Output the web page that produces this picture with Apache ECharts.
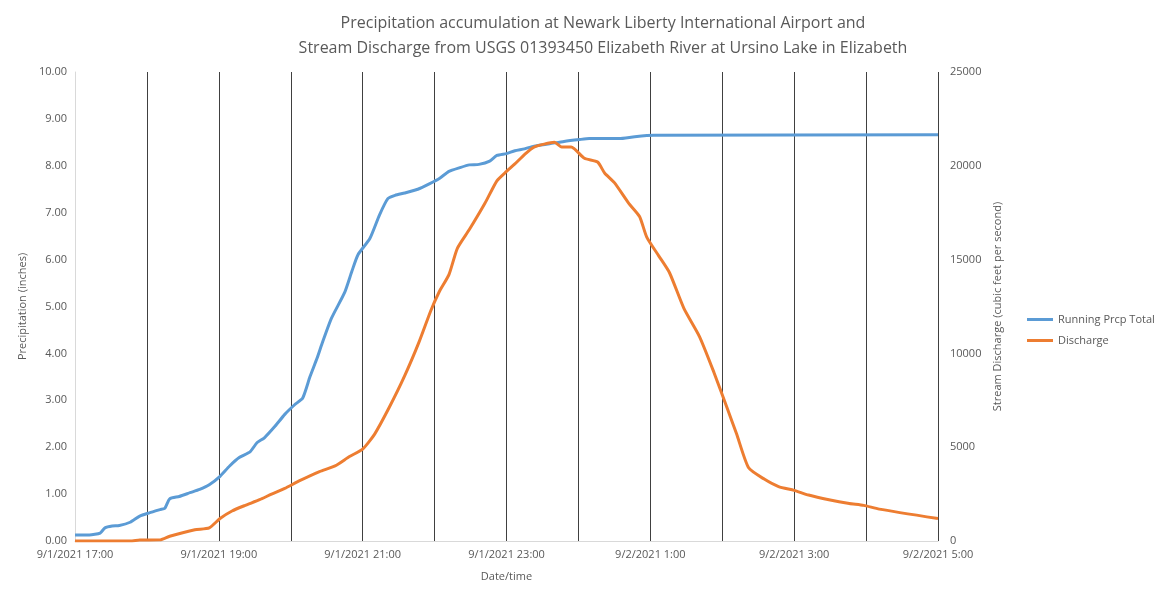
<!DOCTYPE html>
<html>
<head>
<meta charset="utf-8">
<script src="https://cdn.jsdelivr.net/npm/echarts@6/dist/echarts.min.js"></script>
<style>html,body{margin:0;padding:0;background:#fff}#chart{width:1157px;height:601px}</style>
</head>
<body>
<div id="chart"></div>
<script>
// minutes after 9/1/2021 17:00
const prcpTimes = [0,12,21,25,31,37,46,54,62,71,75,79,87,96,104,112,121,129,137,146,152,158,167,175,183,190,196,202,206,214,225,231,236,246,254,261,267,275,286,296,304,312,321,329,337,346,352,360,367,375,383,396,408,421,429,454,467,483,720];
const prcpValues = [0.13,0.13,0.17,0.28,0.32,0.33,0.40,0.53,0.60,0.67,0.70,0.90,0.95,1.03,1.10,1.20,1.38,1.60,1.78,1.90,2.10,2.20,2.45,2.70,2.90,3.05,3.50,3.90,4.20,4.75,5.30,5.75,6.10,6.45,6.95,7.30,7.37,7.42,7.50,7.62,7.73,7.88,7.96,8.02,8.03,8.10,8.22,8.26,8.32,8.36,8.42,8.47,8.52,8.56,8.58,8.58,8.62,8.65,8.66];
const qTimes = [0,46,54,71,79,100,112,121,131,142,154,164,175,187,204,217,229,240,250,262,275,287,297,304,312,319,329,342,352,360,367,375,383,400,406,414,425,436,442,450,462,471,477,487,496,508,521,533,544,552,562,575,587,600,612,629,646,658,671,720];
const qValues = [0,0,50,60,250,600,700,1200,1600,1900,2200,2500,2800,3200,3700,4000,4500,4900,5700,7100,8800,10600,12300,13300,14200,15600,16600,18000,19200,19700,20100,20600,21000,21250,21000,21000,20400,20200,19600,19100,18000,17300,16200,15200,14300,12400,10900,9000,7100,5700,3900,3300,2900,2700,2450,2200,2000,1900,1700,1200];

function timeLabel(m) {
  const h = 17 + m / 60;
  if (h < 24) return '9/1/2021 ' + h + ':00';
  return '9/2/2021 ' + (h - 24) + ':00';
}

const txt = '#595959';
const chart = echarts.init(document.getElementById('chart'));
chart.setOption({
  animation: false,
  title: {
    text: 'Precipitation accumulation at Newark Liberty International Airport and\nStream Discharge from USGS 01393450 Elizabeth River at Ursino Lake in Elizabeth',
    left: 598, top: 6, textAlign: 'center',
    textStyle: { fontFamily: 'Open Sans', fontSize: 16, fontWeight: 'normal', color: txt, lineHeight: 25 }
  },
  legend: {
    orient: 'vertical', left: 1022, top: 309, itemGap: 10, itemWidth: 26, itemHeight: 3,
    icon: 'rect',
    textStyle: { fontFamily: 'Open Sans', fontSize: 11, color: txt },
    data: ['Running Prcp Total', 'Discharge']
  },
  grid: { left: 75, right: 219, top: 72, bottom: 60 },
  xAxis: {
    type: 'value', min: 0, max: 720, interval: 60,
    name: 'Date/time', nameLocation: 'middle', nameGap: 30,
    nameTextStyle: { fontFamily: 'Open Sans', fontSize: 11, color: txt },
    axisLine: { lineStyle: { color: '#d9d9d9' } },
    axisTick: { show: false },
    axisLabel: {
      fontFamily: 'Open Sans', fontSize: 11, color: txt, margin: 8,
      formatter: v => (v % 120 === 0 ? timeLabel(v) : '')
    },
    splitLine: { show: true, lineStyle: { color: '#404040', width: 1 } }
  },
  yAxis: [{
    type: 'value', min: 0, max: 10, interval: 1,
    name: 'Precipitation (inches)', nameLocation: 'middle', nameGap: 45,
    nameTextStyle: { fontFamily: 'Open Sans', fontSize: 11, color: txt },
    axisLine: { show: true, lineStyle: { color: '#d9d9d9' } },
    axisTick: { show: false },
    axisLabel: { fontFamily: 'Open Sans', fontSize: 11, color: txt, formatter: v => v.toFixed(2) },
    splitLine: { show: false }
  }, {
    type: 'value', min: 0, max: 25000, interval: 5000,
    name: 'Stream Discharge (cubic feet per second)', nameLocation: 'middle', nameGap: 50,
    nameTextStyle: { fontFamily: 'Open Sans', fontSize: 11, color: txt },
    axisLine: { show: false },
    axisTick: { show: false },
    axisLabel: { fontFamily: 'Open Sans', fontSize: 11, color: txt, margin: 12, formatter: v => String(v) },
    splitLine: { show: false }
  }],
  series: [{
    name: 'Running Prcp Total', type: 'line', yAxisIndex: 0, showSymbol: false, smooth: 0.2,
    lineStyle: { color: '#5b9bd5', width: 3 }, itemStyle: { color: '#5b9bd5' },
    data: prcpTimes.map((t, i) => [t, prcpValues[i]])
  }, {
    name: 'Discharge', type: 'line', yAxisIndex: 1, showSymbol: false, smooth: 0.2,
    lineStyle: { color: '#ed7d31', width: 3 }, itemStyle: { color: '#ed7d31' },
    data: qTimes.map((t, i) => [t, qValues[i]])
  }]
});
</script>
</body>
</html>
